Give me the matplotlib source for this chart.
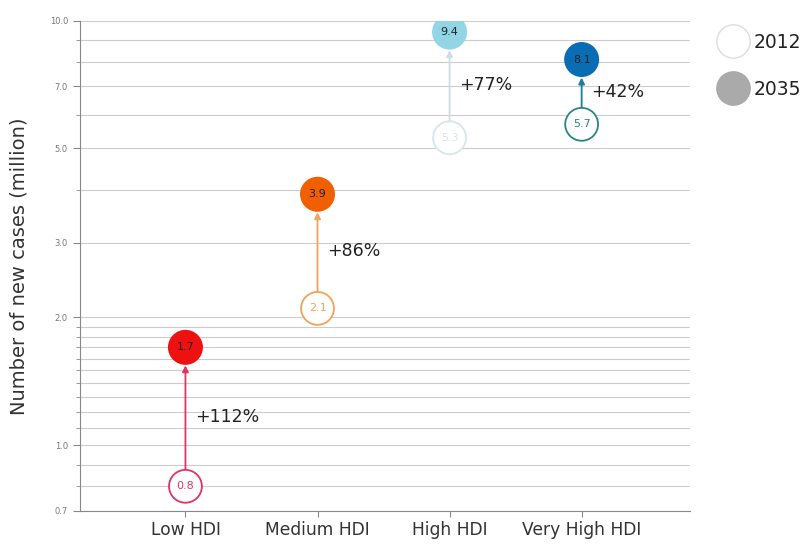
import numpy as np
import matplotlib.pyplot as plt
from matplotlib.lines import Line2D
from matplotlib.ticker import FixedLocator, FixedFormatter, NullFormatter

# данные
groups = ['Low HDI', 'Medium HDI', 'High HDI', 'Very High HDI']
cases_2012 = [0.8, 2.1, 5.3, 5.7]
cases_2035 = [1.7, 3.9, 9.4, 8.1]
growth = ['+112%', '+86%', '+77%', '+42%']

fill_colors = ['#ee1111', '#f06000', '#92d6e6', '#0a6db4']
edge_colors = ['#e03462', '#f0a45a', '#d6e6ea', '#2a8486']
arrow_colors = ['#e03462', '#f0a45a', '#cfdde2', '#1a7c9c']

major_ticks = [0.7, 1.0, 2.0, 3.0, 5.0, 7.0, 10.0]
minor_ticks = [0.8, 0.9, 1.1, 1.2, 1.3, 1.4, 1.5, 1.6, 1.7, 1.8, 1.9, 4.0, 6.0, 8.0, 9.0]

fig = plt.figure(figsize=(8.06, 5.59), dpi=100)
ax = fig.add_axes([0.099, 0.086, 0.757, 0.877])

x = np.arange(len(groups))

ax.set_yscale('log')
ax.set_ylim(0.7, 10.0)
ax.set_xlim(-0.8, 3.82)

ax.yaxis.set_major_locator(FixedLocator(major_ticks))
ax.yaxis.set_major_formatter(FixedFormatter(['%.1f' % t for t in major_ticks]))
ax.yaxis.set_minor_locator(FixedLocator(minor_ticks))
ax.yaxis.set_minor_formatter(NullFormatter())
ax.grid(True, which='both', axis='y', color='#cccccc', lw=0.8)
ax.set_axisbelow(True)

ax.tick_params(axis='y', which='major', labelsize=6, labelcolor='#777777', color='#888888', length=5)
ax.tick_params(axis='y', which='minor', color='#888888', length=3)
ax.tick_params(axis='x', labelsize=12.3, labelcolor='#333333', color='#888888', length=4)
ax.set_xticks(x)
ax.set_xticklabels(groups)

for s in ['top', 'right']:
    ax.spines[s].set_visible(False)
for s in ['left', 'bottom']:
    ax.spines[s].set_color('#888888')

ax.set_ylabel('Number of new cases (million)', fontsize=14, color='#333333', labelpad=15)

# стрелки
for i in range(len(groups)):
    ax.annotate('', xy=(x[i], cases_2035[i]), xytext=(x[i], cases_2012[i]),
                arrowprops=dict(arrowstyle='-|>', color=arrow_colors[i], lw=1.3,
                                mutation_scale=9, shrinkA=12, shrinkB=13))
    mid = np.sqrt(cases_2012[i] * cases_2035[i])
    ax.text(x[i] + 0.07, mid, growth[i], fontsize=12.5, color='#222222', va='center', ha='left')

ax.scatter(x, cases_2012, s=560, facecolor='white', edgecolor=edge_colors, linewidth=1.3, zorder=3)
ax.scatter(x, cases_2035, s=635, facecolor=fill_colors, edgecolor=fill_colors, linewidth=0, zorder=3)

for i in range(len(groups)):
    ax.text(x[i], cases_2012[i], '%.1f' % cases_2012[i], fontsize=8, color=edge_colors[i],
            ha='center', va='center', zorder=4)
    ax.text(x[i], cases_2035[i], '%.1f' % cases_2035[i], fontsize=8, color='#222222',
            ha='center', va='center', zorder=4)

handles = [
    Line2D([], [], marker='o', ls='', markersize=24, markerfacecolor='white', markeredgecolor='#dddddd'),
    Line2D([], [], marker='o', ls='', markersize=24, markerfacecolor='#aaaaaa', markeredgecolor='#aaaaaa'),
]
fig.legend(handles, ['2012', '2035'], loc='center left', bbox_to_anchor=(0.865, 0.882),
           frameon=False, fontsize=13.5, labelspacing=1.5, handletextpad=0.1, handlelength=2.0,
           labelcolor='#222222')

plt.savefig('out.png', dpi=100)
